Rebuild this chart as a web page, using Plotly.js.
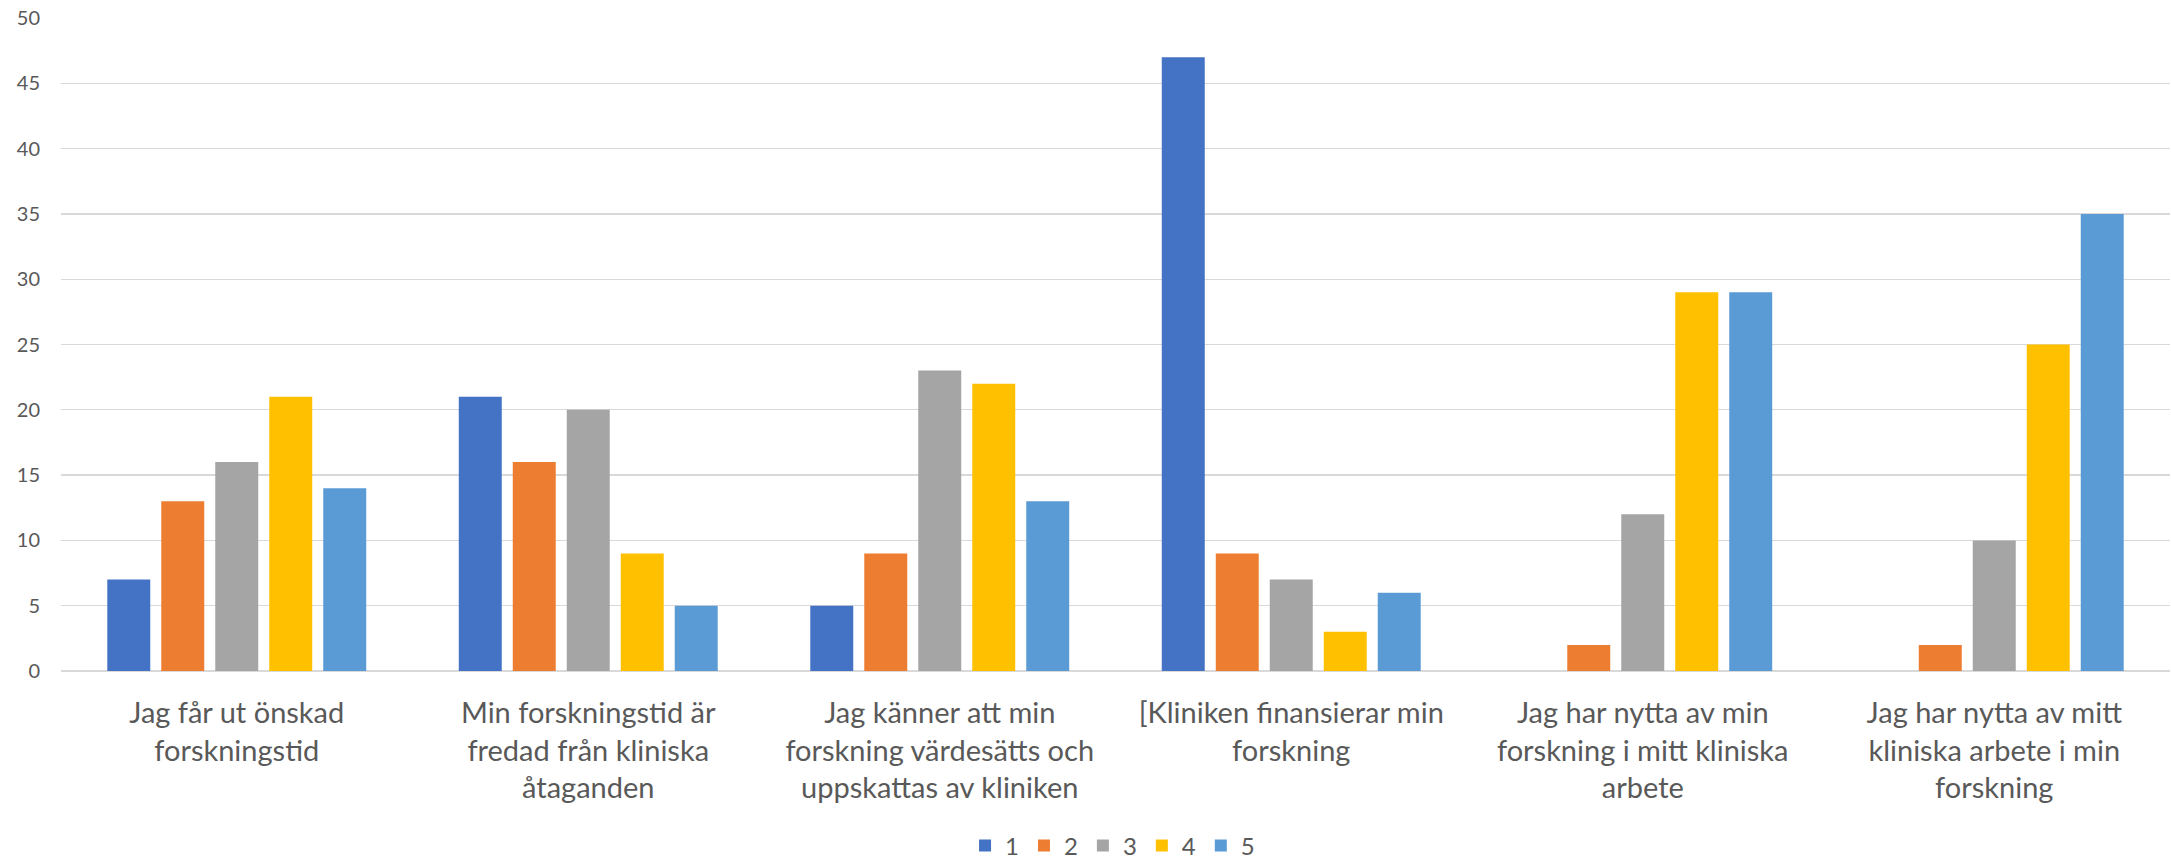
<!DOCTYPE html>
<html><head><meta charset="utf-8">
<script src="https://cdn.plot.ly/plotly-3.0.1.min.js"></script>
<style>html,body{margin:0;padding:0;background:#fff}</style>
</head><body>
<div id="chart" style="width:2171px;height:864px"></div>
<script>
const categories = [
  "Jag får ut önskad<br>forskningstid",
  "Min forskningstid är<br>fredad från kliniska<br>åtaganden",
  "Jag känner att min<br>forskning värdesätts och<br>uppskattas av kliniken",
  "[Kliniken finansierar min<br>forskning",
  "Jag har nytta av min<br>forskning i mitt kliniska<br>arbete",
  "Jag har nytta av mitt<br>kliniska arbete i min<br>forskning"
];
const seriesNames = ["1", "2", "3", "4", "5"];
const s1 = [7, 21, 5, 47, 0, 0];
const s2 = [13, 16, 9, 9, 2, 2];
const s3 = [16, 20, 23, 7, 12, 10];
const s4 = [21, 9, 22, 3, 29, 25];
const s5 = [14, 5, 13, 6, 29, 35];
const colors = ["#4472C4", "#ED7D31", "#A5A5A5", "#FFC000", "#5B9BD5"];
const yTicks = [0, 5, 10, 15, 20, 25, 30, 35, 40, 45, 50];

const allSeries = [s1, s2, s3, s4, s5];
const traces = allSeries.map((vals, i) => ({
  type: "bar",
  name: seriesNames[i],
  x: categories,
  y: vals,
  marker: {color: colors[i]},
  hoverinfo: "y"
}));

const layout = {
  width: 2171, height: 864,
  margin: {l: 61, r: 1, t: 18, b: 193, autoexpand: false},
  paper_bgcolor: "#fff", plot_bgcolor: "#fff",
  font: {family: "Lato, 'Open Sans', sans-serif", color: "#595959"},
  barmode: "group",
  bargap: 0.232,
  bargroupgap: 0.204,
  xaxis: {
    type: "category",
    automargin: false,
    tickfont: {size: 29, color: "#595959"},
    showgrid: false, zeroline: false, showline: false,
    ticks: "", ticklen: 0, ticklabelstandoff: 22
  },
  yaxis: {
    automargin: false,
    range: [0, 50],
    tickvals: yTicks,
    ticktext: yTicks.map(String),
    tickfont: {size: 20, color: "#595959"},
    showgrid: true, gridcolor: "#d9d9d9", gridwidth: 1.3,
    zeroline: true, zerolinecolor: "#d9d9d9", zerolinewidth: 1.3,
    showline: false, ticks: "", ticklabelstandoff: 20
  },
  legend: {
    orientation: "h",
    x: 0.4986, xanchor: "center",
    y: -0.268, yanchor: "middle",
    font: {size: 24, color: "#595959"},
    itemwidth: 20,
    traceorder: "normal"
  },
  showlegend: true
};

Plotly.newPlot("chart", traces, layout, {displayModeBar: false, staticPlot: true});
</script>
</body></html>
